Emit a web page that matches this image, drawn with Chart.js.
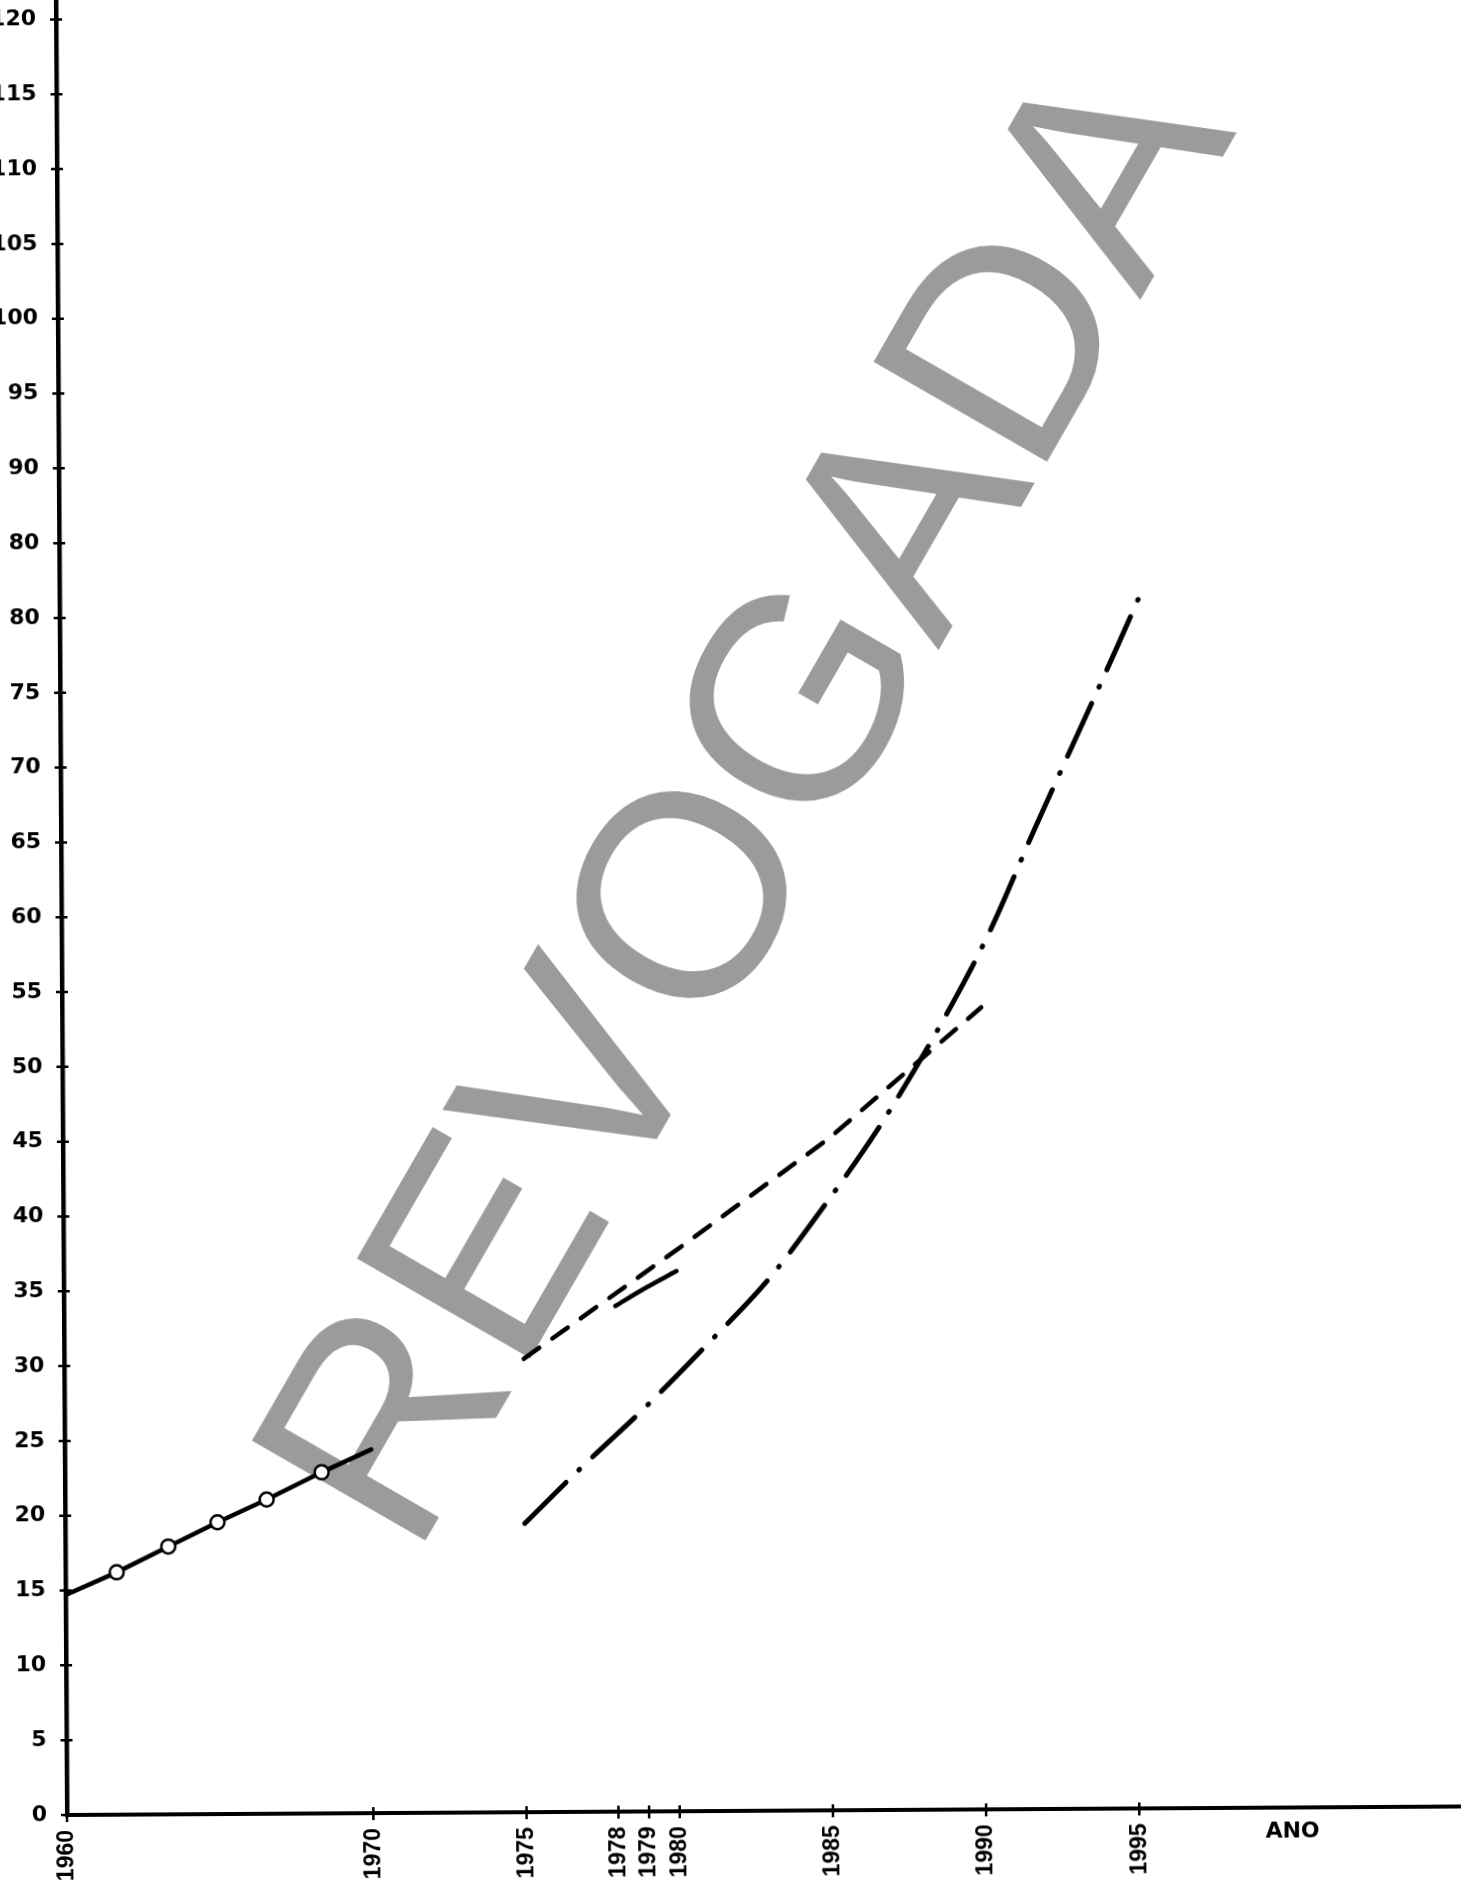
<!DOCTYPE html>
<html lang="pt">
<head>
<meta charset="utf-8">
<title>Projeção por ano</title>
<script src="https://cdn.jsdelivr.net/npm/chart.js@4.4.1/dist/chart.umd.min.js"></script>
<style>
  html, body { margin: 0; padding: 0; background: #fff; }
  #wrap { width: 1461px; height: 1888px; overflow: hidden; position: relative; background: #fff; }
  /* the sheet sits very slightly rotated on the page */
  #chart { display: block; transform: rotate(-0.35deg); transform-origin: 67px 1815px; }
</style>
</head>
<body>
<div id="wrap"><canvas id="chart" width="1461" height="1888"></canvas></div>
<script>
// Série observada, 1960-1970 (linha cheia com marcadores)
const anosObservados   = [1960, 1961.67, 1963.36, 1964.97, 1966.58, 1968.38, 1970];
const valoresObservados = [14.7, 16.2, 17.9, 19.5, 21.0, 22.8, 24.3];

// Projeção tracejada, 1975-1990
const anosTracejada    = [1975, 1980, 1985, 1990];
const valoresTracejada = [30.3, 37.5, 44.9, 53.6];

// Trecho curto em linha cheia, 1978-1980
const anosTrecho    = [1978, 1979, 1980];
const valoresTrecho = [33.8, 35.0, 36.1];

// Projeção traço-ponto, 1975-1995
const anosTracoPonto    = [1975, 1976.8, 1979, 1980.9, 1983, 1984.8, 1986.6, 1988.6, 1990.3, 1991.8, 1993.4, 1994.5, 1995.2];
const valoresTracoPonto = [19.3, 22.9, 27.1, 31.0, 35.5, 40.3, 45.5, 52.2, 58.7, 65.6, 72.7, 77.6, 80.8];

// Marcas dos eixos
const anosEixo    = [1960, 1970, 1975, 1978, 1979, 1980, 1985, 1990, 1995];
const valoresEixo = [0, 5, 10, 15, 20, 25, 30, 35, 40, 45, 50, 55, 60, 65, 70, 75, 80, 85, 90, 95, 100, 105, 110, 115, 120];
const rotulosEixo = ['0', '5', '10', '15', '20', '25', '30', '35', '40', '45', '50', '55', '60', '65', '70', '75', '80', '80', '90', '95', '100', '105', '110', '115', '120'];
const tituloEixoX = 'ANO';
const carimboTexto = 'REVOGADA';

const pares = (xs, ys) => xs.map((x, i) => ({ x, y: ys[i] }));

// Carimbo cinza, desenhado por baixo das curvas
const carimbo = {
  id: 'carimbo',
  beforeDatasetsDraw(chart) {
    const { ctx, scales: { x, y } } = chart;
    ctx.save();
    ctx.translate(x.getPixelForValue(1984.94), y.getPixelForValue(64.4));
    ctx.rotate(-59.7 * Math.PI / 180);
    ctx.font = '291px "Liberation Sans", Arial, sans-serif';
    ctx.fillStyle = '#9b9b9b';
    ctx.textAlign = 'center';
    ctx.textBaseline = 'alphabetic';
    ctx.fillText(carimboTexto, 0, 0);
    ctx.restore();
  }
};

// Pequenas cruzes nas marcas dos dois eixos e o rótulo "ANO"
const marcas = {
  id: 'marcas',
  afterDraw(chart) {
    const { ctx, chartArea, scales: { x, y } } = chart;
    ctx.save();
    ctx.strokeStyle = '#000';
    ctx.lineWidth = 2.5;
    ctx.beginPath();
    valoresEixo.forEach(v => {
      const py = y.getPixelForValue(v);
      ctx.moveTo(chartArea.left - 6, py);
      ctx.lineTo(chartArea.left + 6, py);
    });
    anosEixo.forEach(a => {
      const px = x.getPixelForValue(a);
      ctx.moveTo(px, chartArea.bottom - 6);
      ctx.lineTo(px, chartArea.bottom + 7);
    });
    ctx.stroke();
    ctx.fillStyle = '#000';
    ctx.font = 'bold 22px "DejaVu Sans", sans-serif';
    ctx.textAlign = 'center';
    ctx.textBaseline = 'middle';
    ctx.fillText(tituloEixoX, x.getPixelForValue(2000), chartArea.bottom + 24);
    ctx.restore();
  }
};

new Chart(document.getElementById('chart'), {
  type: 'line',
  data: {
    datasets: [
      {
        data: pares(anosObservados, valoresObservados),
        borderColor: '#000',
        borderWidth: 4.5,
        backgroundColor: '#fff',
        pointBackgroundColor: '#fff',
        pointBorderColor: '#000',
        pointBorderWidth: 2.5,
        pointRadius: c => (c.dataIndex === 0 || c.dataIndex === anosObservados.length - 1) ? 0 : 7,
        tension: 0,
        borderCapStyle: 'round'
      },
      {
        data: pares(anosTracejada, valoresTracejada),
        borderColor: '#000',
        borderWidth: 4.5,
        borderDash: [19, 16],
        borderCapStyle: 'round',
        pointRadius: 0,
        tension: 0
      },
      {
        data: pares(anosTrecho, valoresTrecho),
        borderColor: '#000',
        borderWidth: 4.5,
        borderCapStyle: 'round',
        pointRadius: 0,
        tension: 0.3
      },
      {
        data: pares(anosTracoPonto, valoresTracoPonto),
        borderColor: '#000',
        borderWidth: 5,
        borderDash: [58, 18, 1, 18],
        borderCapStyle: 'round',
        pointRadius: 0,
        cubicInterpolationMode: 'monotone'
      }
    ]
  },
  options: {
    responsive: false,
    animation: false,
    events: [],
    layout: { padding: 0 },
    plugins: { legend: { display: false }, tooltip: { enabled: false } },
    scales: {
      x: {
        type: 'linear',
        min: 1960,
        max: 2005.5,
        grid: { display: false },
        border: { display: true, color: '#000', width: 4 },
        afterBuildTicks: s => { s.ticks = anosEixo.map(v => ({ value: v })); },
        afterFit: s => { s.height = 73; s.paddingLeft = 0; s.paddingRight = 0; },
        ticks: {
          autoSkip: false,
          minRotation: 90,
          maxRotation: 90,
          padding: 7,
          color: '#000',
          font: { family: '"Liberation Sans", Arial, sans-serif', weight: 'bold', size: 23 },
          callback: v => String(v)
        }
      },
      y: {
        type: 'linear',
        min: 0,
        max: 121.3,
        grid: { display: false },
        border: { display: true, color: '#000', width: 4.5 },
        afterBuildTicks: s => { s.ticks = valoresEixo.map(v => ({ value: v })); },
        afterFit: s => { s.width = 67; s.paddingTop = 0; s.paddingBottom = 0; },
        ticks: {
          autoSkip: false,
          padding: 12,
          color: '#000',
          font: { family: '"DejaVu Sans", sans-serif', weight: 'bold', size: 22 },
          callback: v => rotulosEixo[valoresEixo.indexOf(v)]
        }
      }
    }
  },
  plugins: [carimbo, marcas]
});
</script>
</body>
</html>
